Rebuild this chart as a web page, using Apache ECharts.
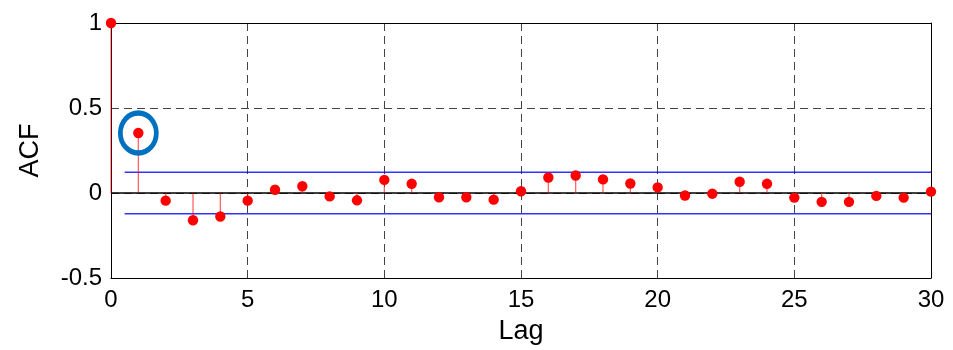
<!DOCTYPE html>
<html>
<head>
<meta charset="utf-8">
<script src="https://cdn.jsdelivr.net/npm/echarts@6/dist/echarts.min.js"></script>
<style>html,body{margin:0;padding:0;background:#fff;}#c{width:953px;height:350px;}</style>
</head>
<body>
<div id="c"></div>
<script>
var lags = [0,1,2,3,4,5,6,7,8,9,10,11,12,13,14,15,16,17,18,19,20,21,22,23,24,25,26,27,28,29,30];
var acf = [1, 0.353, -0.045, -0.16, -0.138, -0.045, 0.019, 0.04, -0.02, -0.043, 0.077, 0.054, -0.025, -0.025, -0.039, 0.01, 0.091, 0.103, 0.08, 0.056, 0.033, -0.015, -0.004, 0.066, 0.054, -0.027, -0.052, -0.052, -0.017, -0.027, 0.008];
var upperBound = 0.122;
var lowerBound = -0.122;
var boundStart = 0.5;
var boundEnd = 30;
var highlightLag = 1;
var xTicks = [0, 5, 10, 15, 20, 25, 30];
var yTicks = [-0.5, 0, 0.5, 1];

var chart = echarts.init(document.getElementById('c'), null, {renderer: 'canvas'});
var font = "'Liberation Sans', Arial, sans-serif";
var stemData = lags.map(function (l, i) { return [l, acf[i]]; });
var xMin = xTicks[0], xMax = xTicks[xTicks.length - 1];
var yMin = yTicks[0], yMax = yTicks[yTicks.length - 1];

chart.setOption({
  animation: false,
  backgroundColor: '#fff',
  grid: {left: 111, right: 22, top: 23, bottom: 68, show: false},
  xAxis: [{
    type: 'value', min: xMin, max: xMax, interval: 5,
    name: 'Lag', nameLocation: 'middle', nameGap: 40,
    nameTextStyle: {fontFamily: font, fontSize: 27, color: '#000'},
    axisLine: {show: true, onZero: false, lineStyle: {color: '#000', width: 1}},
    axisTick: {show: false},
    axisLabel: {fontFamily: font, fontSize: 24, color: '#000', margin: 10},
    splitLine: {show: true, lineStyle: {color: '#444', type: [8, 5], width: 1}}
  }, {
    type: 'value', position: 'top', min: xMin, max: xMax, interval: 5,
    axisLine: {show: true, onZero: false, lineStyle: {color: '#000', width: 1}},
    axisTick: {show: false}, axisLabel: {show: false}, splitLine: {show: false}
  }],
  yAxis: [{
    type: 'value', min: yMin, max: yMax, interval: 0.5,
    name: 'ACF', nameLocation: 'middle', nameGap: 67,
    nameTextStyle: {fontFamily: font, fontSize: 27, color: '#000'},
    axisLine: {show: true, onZero: false, lineStyle: {color: '#000', width: 1}},
    axisTick: {show: false},
    axisLabel: {fontFamily: font, fontSize: 24, color: '#000', margin: 9},
    splitLine: {show: true, lineStyle: {color: '#444', type: [8, 5], width: 1}}
  }, {
    type: 'value', position: 'right', min: yMin, max: yMax, interval: 0.5,
    axisLine: {show: true, onZero: false, lineStyle: {color: '#000', width: 1}},
    axisTick: {show: false}, axisLabel: {show: false}, splitLine: {show: false}
  }],
  series: [
    {
      type: 'line', xAxisIndex: 0, yAxisIndex: 0, data: [[xMin, 0], [xMax, 0]],
      symbol: 'none', lineStyle: {color: '#000000', width: 1.5}, z: 3, silent: true
    },
    {
      type: 'line', xAxisIndex: 0, yAxisIndex: 0, data: [[boundStart, upperBound], [boundEnd, upperBound]],
      symbol: 'none', lineStyle: {color: '#0000ff', width: 1.3, opacity: 0.8}, z: 4, silent: true
    },
    {
      type: 'line', xAxisIndex: 0, yAxisIndex: 0, data: [[boundStart, lowerBound], [boundEnd, lowerBound]],
      symbol: 'none', lineStyle: {color: '#0000ff', width: 1.3, opacity: 0.8}, z: 4, silent: true
    },
    {
      type: 'custom', xAxisIndex: 0, yAxisIndex: 0, data: stemData, clip: false, z: 5,
      renderItem: function (params, api) {
        var base = api.coord([api.value(0), 0]);
        var top = api.coord([api.value(0), api.value(1)]);
        return {
          type: 'group',
          children: [
            {type: 'line', shape: {x1: base[0], y1: base[1], x2: top[0], y2: top[1]},
             style: {stroke: '#ff0000', lineWidth: 1.3, opacity: 0.6}},
            {type: 'circle', shape: {cx: top[0], cy: top[1], r: 5.2},
             style: {fill: '#ff0000'}}
          ]
        };
      }
    },
    {
      type: 'scatter', xAxisIndex: 0, yAxisIndex: 0, data: [[highlightLag, acf[highlightLag]]],
      symbol: 'circle', symbolSize: [36, 40], z: 6, silent: true,
      itemStyle: {color: 'rgba(0,0,0,0)', borderColor: '#0070c0', borderWidth: 5, opacity: 1}
    }
  ]
});
</script>
</body>
</html>
